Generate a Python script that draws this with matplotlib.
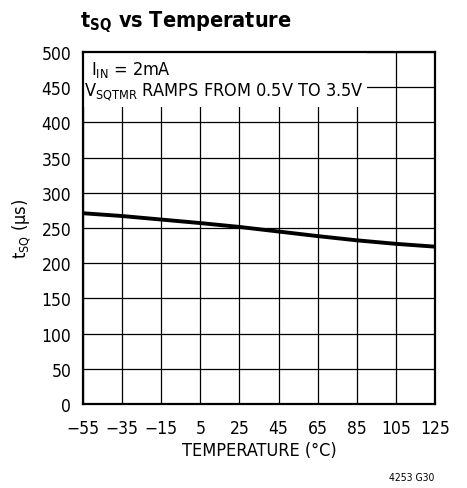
import matplotlib

matplotlib.use("Agg")
import matplotlib.pyplot as plt
from matplotlib.patches import Rectangle

matplotlib.rcParams.update({
    "font.family": ["DejaVu Sans"],
    "font.stretch": "condensed",
    "mathtext.default": "regular",
    "font.size": 13,
})

temp_c = [-55, -35, -15, 5, 25, 45, 65, 85, 105, 125]
tsq_us = [271, 267, 262, 257, 251.5, 245, 238.5, 232.5, 227.5, 223.5]
x_ticks = [-55, -35, -15, 5, 25, 45, 65, 85, 105, 125]
y_ticks = [0, 50, 100, 150, 200, 250, 300, 350, 400, 450, 500]

fig = plt.figure(figsize=(4.67, 4.89), dpi=100)
ax = fig.add_axes([0.1777, 0.1718, 0.7537, 0.7198])

ax.plot(temp_c, tsq_us, color="black", lw=2.8, zorder=2, solid_capstyle="butt")

ax.set_xlim(-55, 125)
ax.set_ylim(0, 500)
ax.set_xticks(x_ticks)
ax.set_yticks(y_ticks)
ax.set_xticklabels([str(t).replace("-", "\u2212") for t in x_ticks])
ax.tick_params(length=0, labelsize=12.5)
ax.tick_params(axis="x", pad=10.5)
ax.tick_params(axis="y", pad=8.5)
ax.set_axisbelow(True)
ax.grid(True, color="black", lw=0.9)
for s in ax.spines.values():
    s.set_linewidth(1.6)

# white patch behind the annotation text hides the grid there
ax.add_patch(Rectangle((-55, 422), 145, 78, facecolor="white", edgecolor="none", zorder=1))
ax.text(-51, 469, r"I$_{IN}$ = 2mA", fontsize=13, va="baseline", ha="left", zorder=3)
ax.text(-54.5, 438, r"V$_{SQTMR}$ RAMPS FROM 0.5V TO 3.5V", fontsize=13,
        va="baseline", ha="left", zorder=3)

ax.set_xlabel("TEMPERATURE (°C)", fontsize=13)
ax.xaxis.set_label_coords(0.5, -0.104)
ax.set_ylabel(r"t$_{SQ}$ (µs)", fontsize=13)
ax.yaxis.set_label_coords(-0.142, 0.5)

fig.text(0.172, 0.943, r"t$_{SQ}$ vs Temperature", fontsize=15.5, fontweight="bold",
         ha="left", va="baseline")
fig.text(0.931, 0.017, "4253 G30", fontsize=7.5, ha="right", va="baseline")

fig.savefig("out.png", dpi=100)
